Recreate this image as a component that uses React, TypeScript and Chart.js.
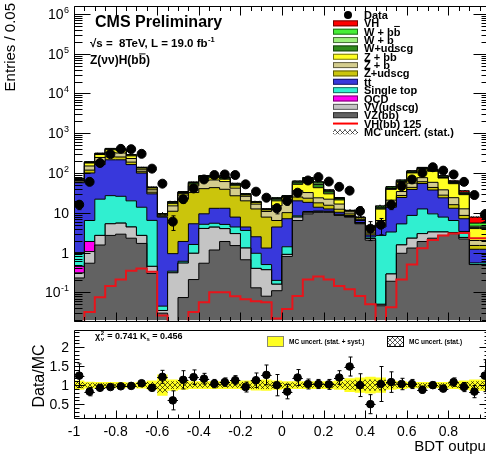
import React, { useEffect, useRef } from "react";
import { Chart, registerables } from "chart.js";

Chart.register(...registerables);

const FONT = '"Liberation Sans", Arial, Helvetica, sans-serif';

// ---------- binning: BDT output, 40 bins of width 0.05 ----------
const binEdges: number[] = Array.from({ length: 41 }, (_, i) => Math.round((-1 + 0.05 * i) * 100) / 100);
const binCenters: number[] = binEdges.slice(0, 40).map((e) => Math.round((e + 0.025) * 1000) / 1000);

const xTickValues = [-1, -0.8, -0.6, -0.4, -0.2, 0, 0.2, 0.4, 0.6, 0.8, 1];
const xTickLabels = ["-1", "-0.8", "-0.6", "-0.4", "-0.2", "0", "0.2", "0.4", "0.6", "0.8", "1"];
const yDecades = [-1, 0, 1, 2, 3, 4, 5, 6];
const ratioTickValues = [0.5, 1, 1.5, 2];
const ratioTickLabels = ["0.5", "1", "1.5", "2"];

// ---------- background components (stack order: bottom -> top) ----------
const vzbb = [0.005, 0.23, 0.54, 1.55, 2.7, 2.9, 2.3, 1.7, 0.3, 0.03,
  0.01, 0.074, 0.21, 0.54, 1.16, 1.9, 1.5, 0.66, 0.13, 0.08,
  0.11, 0.8, 6.4, 9.4, 10.3, 10.3, 8.6, 7.8, 5.3, 2.06,
  0.046, 0.19, 0.96, 1.3, 1.9, 2.3, 2.7, 3.0, 2.2, 0.5];
const vvudscg = [0, 0.08, 0.52, 1.15, 2.6, 2.6, 2.1, 1.0, 0.15, 0.005,
  0.3, 0.47, 0.75, 3.5, 3.2, 2.1, 1.5, 0.64, 0.27, 0.29,
  0.05, 0.1, 1.4, 0.9, 0.3, 0.3, 0.3, 0.2, 0.2, 0.2,
  0.004, 0.1, 0.6, 1.0, 1.1, 1.0, 0.6, 0.2, 0.2, 0];
const qcd = [0.09, 0.14, 0.84, 0, 0, 0, 0, 0, 0, 0,
  0, 0, 0, 0, 0, 0, 0, 0, 0, 0,
  0, 0, 0, 0, 0, 0, 0, 0, 0, 0,
  0, 0, 0, 0, 0, 0, 0, 0, 0, 0];
const singleTop = [0.85, 0.55, 4.5, 19.3, 21.7, 20.5, 15.6, 11.1, 6.0, 0.01,
  0.03, 0.06, 0.64, 1.1, 1.1, 1.1, 1.4, 2.3, 0.56, 0.13,
  0.04, 0.5, 0.6, 0.5, 0.5, 0.4, 0.3, 0.2, 0.2, 0.2,
  2.65, 3.0, 3.7, 6.3, 9.5, 6.1, 4.5, 3.2, 1.0, 0.05];
const ttbar = [9.0, 56, 94, 141, 188, 189, 143, 86, 23.5, 7.75,
  0.6, 1.3, 3.7, 4.3, 7.5, 7.9, 3.4, 0.8, 1.54, 0.8,
  4.2, 5.7, 11.6, 7.5, 2.7, 1.5, 1.1, 0.4, 0.7, 0.3,
  1.7, 10.5, 19, 30, 42, 28, 16, 6.6, 3.7, 0.66];
const zudscg = [0.7, 3, 18, 30, 40, 38, 25, 8, 3, 0.4,
  10, 20, 27, 31, 30, 26, 19, 15.6, 10, 6.5,
  2, 3, 5, 5, 4, 3, 2, 0.8, 0.2, 0.2,
  0.5, 2, 3, 5, 6, 6, 4, 3, 1.5, 0.3];
const zb = [0.8, 5, 32, 53, 70, 66, 44, 13, 5, 0.5,
  4, 6, 15, 25, 24, 22, 15, 6, 4, 3,
  8.6, 10, 11, 9, 6, 6.5, 4.3, 1.2, 0.3, 0.3,
  1.5, 5, 7, 12, 16, 15, 10, 8, 4, 0.5];
const zbb = [0.7, 4.5, 28, 46, 60, 57, 38, 12, 4, 0.5,
  2, 2.5, 5, 9, 9, 9, 6, 2, 1.5, 1,
  5, 4, 16, 25, 19, 8, 4.5, 0.5, 0.6, 1.1,
  6, 18, 24, 45, 48, 52, 37, 30, 16, 2.0];
const wudscg = [0.3, 1.2, 6, 10, 13, 13, 9, 3, 1, 0.15,
  1, 2, 4, 7, 5, 5, 4, 1.2, 0.6, 0.4,
  2, 1.5, 5, 10, 9, 4, 1.7, 0.2, 0.1, 0.1,
  0.8, 2, 2.5, 4, 4, 4, 2.5, 2, 1.2, 0.3];
const wb = [0.2, 0.8, 4, 7, 10, 9, 6, 2, 0.6, 0.1,
  0.6, 0.8, 1.5, 2.5, 2.2, 2.2, 1.8, 0.5, 0.25, 0.2,
  1, 0.8, 3, 5, 4.5, 2, 0.7, 0.1, 0.05, 0.1,
  0.6, 1.5, 2, 3, 3, 3, 2, 1.5, 1, 0.3];
const wbb = [0.1, 0.5, 3, 5, 7, 6, 4, 1, 0.3, 0.05,
  0.5, 0.7, 1.2, 2, 1.8, 1.8, 1.4, 0.3, 0.15, 0.1,
  0.8, 0.5, 2.5, 4.5, 3.5, 1.5, 0.5, 0.05, 0.05, 0.05,
  1, 3, 3.5, 5.5, 6, 6, 4, 3.5, 2, 0.9];
// signal VH(bb) 125 (stacked "VH" and overlaid red line)
const vhSignal = [0.004, 0.012, 0.032, 0.075, 0.144, 0.21, 0.35, 0.4, 0.33, 0.026,
  0.01, 0.012, 0.032, 0.056, 0.1, 0.1, 0.08, 0.067, 0.06, 0.056,
  0.022, 0.038, 0.081, 0.21, 0.25, 0.21, 0.144, 0.12, 0.081, 0.05,
  0.01, 0.042, 0.21, 0.5, 1.28, 2.06, 2.7, 3.0, 3.1, 2.3];

// ---------- data ----------
const dataCounts = [16, 60, 179, 299, 405, 398, 304, 129, 54, 6,
  22, 41, 69, 89, 92, 89, 52, 34, 24, 13,
  20, 32, 65, 79, 61, 45, 36, 11, 4, 5,
  16, 47, 69, 101, 140, 115, 92, 60, 28, 9];
const dataErr = [4, 7.7, 13.4, 17.3, 20.1, 19.9, 17.4, 11.4, 7.3, 2.4,
  4.7, 6.4, 8.3, 9.4, 9.6, 9.4, 7.2, 5.8, 4.9, 3.6,
  4.5, 5.7, 8.1, 8.9, 7.8, 6.7, 6, 3.3, 2, 2.2,
  4, 6.9, 8.3, 10, 11.8, 10.7, 9.6, 7.7, 5.3, 3];

// ---------- ratio panel ----------
const ratio = [1.25, 0.83, 0.93, 0.95, 0.97, 0.98, 1.05, 0.93, 1.22, 0.6,
  1.14, 1.21, 1.17, 1.04, 1.08, 1.13, 0.95, 1.13, 1.27, 1.0,
  0.83, 1.2, 1.03, 1.03, 1.02, 1.2, 1.49, 1.0, 0.5, 1.03,
  1.08, 1.03, 1.03, 0.88, 1.0, 0.91, 1.08, 0.95, 0.83, 1.25];
const ratioErr = [0.31, 0.11, 0.07, 0.055, 0.048, 0.049, 0.06, 0.08, 0.17, 0.25,
  0.24, 0.19, 0.14, 0.11, 0.11, 0.12, 0.13, 0.19, 0.26, 0.28,
  0.19, 0.21, 0.13, 0.12, 0.13, 0.18, 0.25, 0.3, 0.25, 0.46,
  0.27, 0.15, 0.12, 0.09, 0.085, 0.085, 0.11, 0.12, 0.16, 0.42];
const bandSyst = [0.22, 0.12, 0.09, 0.08, 0.08, 0.08, 0.07, 0.09, 0.12, 0.28,
  0.15, 0.12, 0.1, 0.1, 0.1, 0.1, 0.1, 0.12, 0.14, 0.15,
  0.12, 0.1, 0.1, 0.1, 0.1, 0.1, 0.12, 0.18, 0.2, 0.22,
  0.2, 0.12, 0.1, 0.08, 0.08, 0.08, 0.08, 0.1, 0.12, 0.15];
const bandStat = [0.15, 0.08, 0.06, 0.055, 0.05, 0.05, 0.05, 0.06, 0.08, 0.2,
  0.1, 0.08, 0.07, 0.07, 0.07, 0.07, 0.07, 0.08, 0.1, 0.1,
  0.08, 0.07, 0.07, 0.07, 0.07, 0.07, 0.08, 0.12, 0.14, 0.15,
  0.14, 0.08, 0.07, 0.055, 0.055, 0.055, 0.055, 0.07, 0.08, 0.1];

// ---------- styles ----------
const COLORS = {
  vzbb: "#626262",
  vv: "#c4c4c4",
  qcd: "#ff00f0",
  st: "#30efd0",
  tt: "#3838dc",
  zl: "#cbc50c",
  zb: "#d4cd8e",
  zbb: "#ffff22",
  wl: "#2f8a1c",
  wb: "#9cf07c",
  wbb: "#46ee36",
  vh: "#ff0000",
};

const stackDefs = [
  { values: vzbb, color: COLORS.vzbb },
  { values: vvudscg, color: COLORS.vv },
  { values: qcd, color: COLORS.qcd },
  { values: singleTop, color: COLORS.st },
  { values: ttbar, color: COLORS.tt },
  { values: zudscg, color: COLORS.zl },
  { values: zb, color: COLORS.zb },
  { values: zbb, color: COLORS.zbb },
  { values: wudscg, color: COLORS.wl },
  { values: wb, color: COLORS.wb },
  { values: wbb, color: COLORS.wbb },
  { values: vhSignal, color: COLORS.vh },
];

function stepPoints(vals: number[]) {
  return binEdges.map((e, i) => ({ x: e, y: Math.max(vals[Math.min(i, vals.length - 1)], 1e-4) }));
}

function makeHatch(): CanvasPattern | string {
  const c = document.createElement("canvas");
  c.width = 5;
  c.height = 5;
  const g = c.getContext("2d");
  if (!g) return "rgba(0,0,0,0.4)";
  g.strokeStyle = "rgba(0,0,0,0.9)";
  g.lineWidth = 0.7;
  g.beginPath();
  g.moveTo(0, 0);
  g.lineTo(5, 5);
  g.moveTo(5, 0);
  g.lineTo(0, 5);
  g.stroke();
  return g.createPattern(c, "repeat") || "rgba(0,0,0,0.4)";
}

type Part = { t: string; bar?: boolean; sup?: boolean };

function drawParts(ctx: CanvasRenderingContext2D, parts: Part[], x: number, y: number, size: number, bold: boolean) {
  let cx = x;
  ctx.textAlign = "left";
  ctx.textBaseline = "alphabetic";
  for (const p of parts) {
    const s = p.sup ? size * 0.65 : size;
    ctx.font = `${bold ? "bold " : ""}${s}px ${FONT}`;
    const yy = p.sup ? y - size * 0.45 : y;
    ctx.fillText(p.t, cx, yy);
    const w = ctx.measureText(p.t).width;
    if (p.bar) {
      ctx.save();
      ctx.lineWidth = 1;
      ctx.strokeStyle = "#000";
      ctx.beginPath();
      ctx.moveTo(cx + 0.5, yy - size * 0.84);
      ctx.lineTo(cx + w - 0.5, yy - size * 0.84);
      ctx.stroke();
      ctx.restore();
    }
    cx += w;
  }
  return cx;
}

export default function App() {
  const mainRef = useRef<HTMLCanvasElement | null>(null);
  const ratioRef = useRef<HTMLCanvasElement | null>(null);

  useEffect(() => {
    if (!mainRef.current || !ratioRef.current) return;
    const hatch = makeHatch();

    // cumulative stack
    const cum: number[][] = [];
    let running = new Array(40).fill(0);
    stackDefs.forEach((s) => {
      running = running.map((r: number, i: number) => r + s.values[i]);
      cum.push(running.slice());
    });
    const total = cum[cum.length - 1];

    const stackDatasets = stackDefs.map((s, k) => ({
      type: "line",
      data: stepPoints(cum[k]),
      stepped: "after",
      borderColor: "#000",
      borderWidth: 1,
      backgroundColor: s.color,
      fill: k === 0 ? "start" : "-1",
      pointRadius: 0,
      order: 10,
    }));

    const mainDecor = {
      id: "mainDecor",
      afterDatasetsDraw(chart: any) {
        const ctx: CanvasRenderingContext2D = chart.ctx;
        const xs = chart.scales.x;
        const ys = chart.scales.y;
        ctx.save();
        ctx.strokeStyle = "#000";
        ctx.lineWidth = 1;
        binCenters.forEach((c, i) => {
          const px = Math.round(xs.getPixelForValue(c)) + 0.5;
          const hi = ys.getPixelForValue(dataCounts[i] + dataErr[i]);
          const lo = ys.getPixelForValue(Math.max(dataCounts[i] - dataErr[i], 0.02));
          ctx.beginPath();
          ctx.moveTo(px, lo);
          ctx.lineTo(px, hi);
          ctx.moveTo(px - 2, hi);
          ctx.lineTo(px + 2, hi);
          ctx.moveTo(px - 2, lo);
          ctx.lineTo(px + 2, lo);
          ctx.stroke();
        });
        ctx.restore();
      },
      afterDraw(chart: any) {
        const ctx: CanvasRenderingContext2D = chart.ctx;
        const xs = chart.scales.x;
        const ys = chart.scales.y;
        const a = chart.chartArea;
        const L = Math.round(a.left) + 0.5;
        const R = Math.round(a.right) - 0.5;
        const T = Math.round(a.top) + 0.5;
        const B = Math.round(a.bottom) + 0.5;
        ctx.save();
        ctx.strokeStyle = "#000";
        ctx.lineWidth = 1;
        ctx.beginPath();
        ctx.rect(L, T, R - L, B - T);
        ctx.stroke();
        // x ticks (top and bottom)
        ctx.beginPath();
        for (let i = 0; i <= 40; i++) {
          const px = Math.round(xs.getPixelForValue(binEdges[i])) + 0.5;
          const len = i % 4 === 0 ? 9 : 4.5;
          ctx.moveTo(px, B);
          ctx.lineTo(px, B - len);
          ctx.moveTo(px, T);
          ctx.lineTo(px, T + len);
        }
        // y ticks (left and right)
        for (let d = -2; d <= 6; d++) {
          for (let k = 1; k <= 9; k++) {
            const v = k * Math.pow(10, d);
            if (v < ys.min || v > ys.max) continue;
            const py = Math.round(ys.getPixelForValue(v)) + 0.5;
            const len = k === 1 ? 16 : 8;
            ctx.moveTo(L, py);
            ctx.lineTo(L + len, py);
            ctx.moveTo(R, py);
            ctx.lineTo(R - len, py);
          }
        }
        ctx.stroke();

        // y tick labels
        ctx.fillStyle = "#000";
        ctx.textBaseline = "alphabetic";
        const baseFont = `14px ${FONT}`;
        const supFont = `9px ${FONT}`;
        yDecades.forEach((d) => {
          const py = ys.getPixelForValue(Math.pow(10, d));
          const xr = 69;
          if (d === 0 || d === 1) {
            ctx.font = baseFont;
            ctx.textAlign = "right";
            ctx.fillText(d === 0 ? "1" : "10", xr, py + 5);
          } else {
            const sup = String(d);
            ctx.font = supFont;
            const ws = ctx.measureText(sup).width;
            ctx.textAlign = "right";
            ctx.fillText(sup, xr, py - 1);
            ctx.font = baseFont;
            ctx.fillText("10", xr - ws - 0.5, py + 5);
          }
        });

        // y axis title
        ctx.save();
        ctx.translate(11, 3);
        ctx.rotate(-Math.PI / 2);
        ctx.font = `15px ${FONT}`;
        ctx.textAlign = "right";
        ctx.textBaseline = "middle";
        ctx.fillText("Entries / 0.05", 0, 0);
        ctx.restore();

        // CMS texts
        ctx.fillStyle = "#000";
        drawParts(ctx, [{ t: "CMS Preliminary" }], 95, 27, 16, true);
        const e1 = drawParts(ctx, [{ t: "\u221As =  8TeV, L = 19.0 fb" }], 90, 47, 11.5, true);
        drawParts(ctx, [{ t: "-1", sup: true }], e1 + 0.5, 47, 11.5, true);
        drawParts(ctx, [{ t: "Z(\u03BD\u03BD)H(b" }, { t: "b", bar: true }, { t: ")" }], 90, 64, 12, true);

        // legend
        const rows: any[] = [
          { kind: "marker", parts: [{ t: "Data" }] },
          { kind: "box", color: COLORS.vh, parts: [{ t: "VH" }] },
          { kind: "box", color: COLORS.wbb, parts: [{ t: "W + b" }, { t: "b", bar: true }] },
          { kind: "box", color: COLORS.wb, parts: [{ t: "W + b" }] },
          { kind: "box", color: COLORS.wl, parts: [{ t: "W+udscg" }] },
          { kind: "box", color: COLORS.zbb, parts: [{ t: "Z + b" }, { t: "b", bar: true }] },
          { kind: "box", color: COLORS.zb, parts: [{ t: "Z + b" }] },
          { kind: "box", color: COLORS.zl, parts: [{ t: "Z+udscg" }] },
          { kind: "box", color: COLORS.tt, parts: [{ t: "t" }, { t: "t", bar: true }] },
          { kind: "box", color: COLORS.st, parts: [{ t: "Single top" }] },
          { kind: "box", color: COLORS.qcd, parts: [{ t: "QCD" }] },
          { kind: "box", color: COLORS.vv, parts: [{ t: "VV(udscg)" }] },
          { kind: "box", color: COLORS.vzbb, parts: [{ t: "VZ(bb)" }] },
          { kind: "line", color: COLORS.vh, parts: [{ t: "VH(bb) 125" }] },
          { kind: "hatch", parts: [{ t: "MC uncert. (stat.)" }] },
        ];
        rows.forEach((r, k) => {
          const yc = 15 + 8.35 * k;
          if (r.kind === "marker") {
            ctx.beginPath();
            ctx.fillStyle = "#000";
            ctx.arc(348, yc, 4, 0, Math.PI * 2);
            ctx.fill();
          } else if (r.kind === "box") {
            ctx.fillStyle = r.color;
            ctx.fillRect(333, yc - 3, 25, 6);
            ctx.strokeStyle = "rgba(0,0,0,0.55)";
            ctx.strokeRect(333.5, yc - 2.5, 24, 5);
          } else if (r.kind === "line") {
            ctx.strokeStyle = r.color;
            ctx.lineWidth = 2;
            ctx.beginPath();
            ctx.moveTo(333, yc);
            ctx.lineTo(358, yc);
            ctx.stroke();
            ctx.lineWidth = 1;
          } else {
            ctx.fillStyle = hatch as any;
            ctx.fillRect(333, yc - 2.5, 25, 5);
          }
          ctx.fillStyle = "#000";
          drawParts(ctx, r.parts, 364, yc + 4, 11, true);
        });
        ctx.restore();
      },
    };

    const mainChart = new Chart(mainRef.current, {
      type: "line",
      data: {
        datasets: [
          ...stackDatasets,
          {
            type: "line",
            data: stepPoints(total.map((t: number, i: number) => t * (1 - bandStat[i] * 0.5))),
            stepped: "after",
            borderWidth: 0,
            borderColor: "rgba(0,0,0,0)",
            pointRadius: 0,
            fill: false,
            order: 5,
          },
          {
            type: "line",
            data: stepPoints(total.map((t: number, i: number) => t * (1 + bandStat[i] * 0.5))),
            stepped: "after",
            borderWidth: 0,
            borderColor: "rgba(0,0,0,0)",
            backgroundColor: hatch,
            pointRadius: 0,
            fill: "-1",
            order: 5,
          },
          {
            type: "line",
            data: stepPoints(vhSignal),
            stepped: "after",
            borderColor: "#e8141b",
            borderWidth: 2,
            pointRadius: 0,
            fill: false,
            order: 2,
          },
          {
            type: "scatter",
            data: binCenters.map((x, i) => ({ x, y: dataCounts[i] })),
            pointRadius: 4.5,
            pointBackgroundColor: "#000",
            pointBorderColor: "#000",
            showLine: false,
            order: 0,
          },
        ] as any,
      },
      options: {
        responsive: false,
        animation: false,
        devicePixelRatio: 1,
        events: [],
        layout: { padding: { left: 74, right: 10, top: 5, bottom: 1 } },
        scales: {
          x: { type: "linear", min: -1, max: 1, display: false },
          y: { type: "logarithmic", min: 0.0196, max: 1.63e6, display: false, bounds: "data" },
        },
        plugins: { legend: { display: false }, tooltip: { enabled: false } },
      } as any,
      plugins: [mainDecor as any],
    });

    const ratioDecor = {
      id: "ratioDecor",
      afterDatasetsDraw(chart: any) {
        const ctx: CanvasRenderingContext2D = chart.ctx;
        const xs = chart.scales.x;
        const ys = chart.scales.y;
        ctx.save();
        ctx.strokeStyle = "#000";
        ctx.lineWidth = 1;
        binCenters.forEach((c, i) => {
          const px = Math.round(xs.getPixelForValue(c)) + 0.5;
          const py = Math.round(ys.getPixelForValue(ratio[i])) + 0.5;
          const x0 = xs.getPixelForValue(c - 0.025);
          const x1 = xs.getPixelForValue(c + 0.025);
          const hi = ys.getPixelForValue(ratio[i] + ratioErr[i]);
          const lo = ys.getPixelForValue(ratio[i] - ratioErr[i]);
          ctx.beginPath();
          ctx.moveTo(x0, py);
          ctx.lineTo(x1, py);
          ctx.moveTo(px, lo);
          ctx.lineTo(px, hi);
          ctx.moveTo(px - 2, hi);
          ctx.lineTo(px + 2, hi);
          ctx.moveTo(px - 2, lo);
          ctx.lineTo(px + 2, lo);
          ctx.stroke();
        });
        ctx.restore();
      },
      afterDraw(chart: any) {
        const ctx: CanvasRenderingContext2D = chart.ctx;
        const xs = chart.scales.x;
        const ys = chart.scales.y;
        const a = chart.chartArea;
        const L = Math.round(a.left) + 0.5;
        const R = Math.round(a.right) - 0.5;
        const T = Math.round(a.top) + 0.5;
        const B = Math.round(a.bottom) - 0.5;
        ctx.save();
        ctx.strokeStyle = "#000";
        ctx.lineWidth = 1;
        ctx.beginPath();
        ctx.rect(L, T, R - L, B - T);
        ctx.stroke();
        ctx.beginPath();
        for (let i = 0; i <= 40; i++) {
          const px = Math.round(xs.getPixelForValue(binEdges[i])) + 0.5;
          const len = i % 4 === 0 ? 8 : 4;
          ctx.moveTo(px, B);
          ctx.lineTo(px, B - len);
        }
        for (let k = 2; k <= 24; k++) {
          const v = k / 10;
          const py = Math.round(ys.getPixelForValue(v)) + 0.5;
          const len = k % 5 === 0 ? 10 : 5;
          ctx.moveTo(L, py);
          ctx.lineTo(L + len, py);
          ctx.moveTo(R, py);
          ctx.lineTo(R - len, py);
        }
        ctx.stroke();

        ctx.fillStyle = "#000";
        ctx.font = `14px ${FONT}`;
        ctx.textAlign = "right";
        ctx.textBaseline = "alphabetic";
        ratioTickValues.forEach((v, i) => {
          ctx.fillText(ratioTickLabels[i], 69, ys.getPixelForValue(v) + 5);
        });
        ctx.textAlign = "center";
        xTickValues.forEach((v, i) => {
          ctx.fillText(xTickLabels[i], xs.getPixelForValue(v), 111);
        });
        ctx.font = `15px ${FONT}`;
        ctx.textAlign = "right";
        ctx.fillText("BDT output", a.right, 126);

        ctx.save();
        ctx.translate(40, 51);
        ctx.rotate(-Math.PI / 2);
        ctx.font = `16px ${FONT}`;
        ctx.textAlign = "center";
        ctx.textBaseline = "middle";
        ctx.fillText("Data/MC", 0, 0);
        ctx.restore();

        // chi2 / KS text
        let cx = 95;
        const by = 14;
        ctx.textAlign = "left";
        ctx.font = `bold 9px ${FONT}`;
        ctx.fillText("\u03C7", cx, by);
        cx += ctx.measureText("\u03C7").width + 0.5;
        ctx.font = `bold 6px ${FONT}`;
        ctx.fillText("2", cx, by - 4);
        ctx.fillText("\u03BD", cx, by + 2);
        cx += 4;
        ctx.font = `bold 9px ${FONT}`;
        ctx.fillText(" = 0.741 K", cx, by);
        cx += ctx.measureText(" = 0.741 K").width;
        ctx.font = `bold 6px ${FONT}`;
        ctx.fillText("s", cx, by + 2);
        cx += ctx.measureText("s").width;
        ctx.font = `bold 9px ${FONT}`;
        ctx.fillText(" = 0.456", cx, by);

        // ratio legend
        ctx.fillStyle = COLORS.zbb;
        ctx.fillRect(267, 11, 17, 11);
        ctx.strokeStyle = "#8a8a70";
        ctx.strokeRect(267.5, 11.5, 16, 10);
        ctx.fillStyle = "#000";
        ctx.font = `bold 6.5px ${FONT}`;
        ctx.fillText("MC uncert. (stat. + syst.)", 289, 19);
        ctx.fillStyle = hatch as any;
        ctx.fillRect(387, 11, 17, 11);
        ctx.strokeStyle = "#000";
        ctx.strokeRect(387.5, 11.5, 16, 10);
        ctx.fillStyle = "#000";
        ctx.fillText("MC uncert. (stat.)", 409, 19);
        ctx.restore();
      },
    };

    const ratioChart = new Chart(ratioRef.current, {
      type: "line",
      data: {
        datasets: [
          {
            type: "line",
            data: stepPoints(bandSyst.map((s) => 1 - s)),
            stepped: "after",
            borderWidth: 0,
            borderColor: "rgba(0,0,0,0)",
            pointRadius: 0,
            fill: false,
            order: 10,
          },
          {
            type: "line",
            data: stepPoints(bandSyst.map((s) => 1 + s)),
            stepped: "after",
            borderWidth: 0,
            borderColor: "rgba(0,0,0,0)",
            backgroundColor: COLORS.zbb,
            pointRadius: 0,
            fill: "-1",
            order: 10,
          },
          {
            type: "line",
            data: stepPoints(bandStat.map((s) => 1 - s)),
            stepped: "after",
            borderWidth: 0,
            borderColor: "rgba(0,0,0,0)",
            pointRadius: 0,
            fill: false,
            order: 5,
          },
          {
            type: "line",
            data: stepPoints(bandStat.map((s) => 1 + s)),
            stepped: "after",
            borderWidth: 0,
            borderColor: "rgba(0,0,0,0)",
            backgroundColor: hatch,
            pointRadius: 0,
            fill: "-1",
            order: 5,
          },
          {
            type: "scatter",
            data: binCenters.map((x, i) => ({ x, y: ratio[i] })),
            pointRadius: 3.8,
            pointBackgroundColor: "#000",
            pointBorderColor: "#000",
            showLine: false,
            order: 0,
          },
        ] as any,
      },
      options: {
        responsive: false,
        animation: false,
        devicePixelRatio: 1,
        events: [],
        layout: { padding: { left: 74, right: 10, top: 0, bottom: 38 } },
        scales: {
          x: { type: "linear", min: -1, max: 1, display: false },
          y: { type: "linear", min: 0.11, max: 2.45, display: false, bounds: "data" },
        },
        plugins: { legend: { display: false }, tooltip: { enabled: false } },
      } as any,
      plugins: [ratioDecor as any],
    });

    return () => {
      mainChart.destroy();
      ratioChart.destroy();
    };
  }, []);

  return (
    <div style={{ position: "fixed", left: 0, top: 0, width: 486, height: 457, overflow: "hidden", background: "#fff" }}>
      <canvas ref={mainRef} width={500} height={326} style={{ position: "absolute", left: 0, top: 0, width: 500, height: 326 }} />
      <canvas ref={ratioRef} width={500} height={132} style={{ position: "absolute", left: 0, top: 325, width: 500, height: 132 }} />
    </div>
  );
}
